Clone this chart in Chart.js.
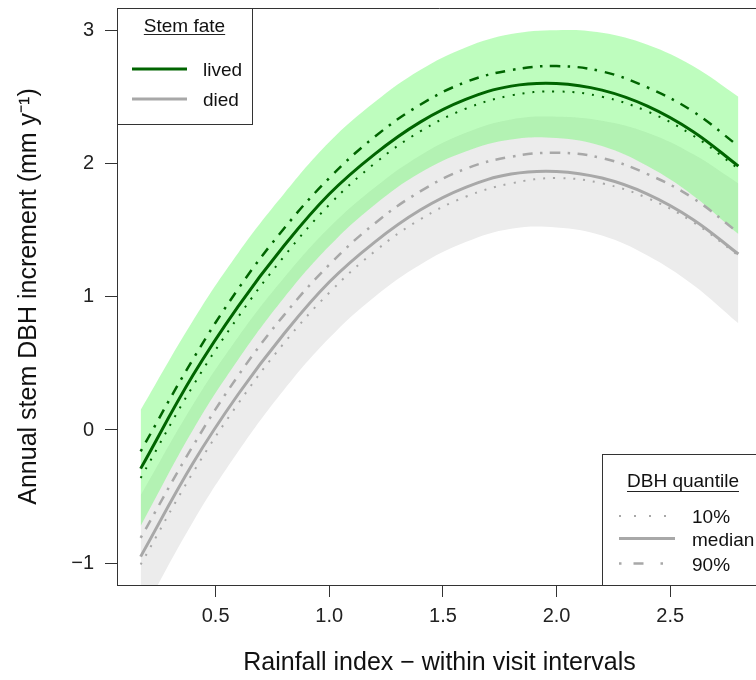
<!DOCTYPE html>
<html><head><meta charset="utf-8">
<script src="https://cdn.jsdelivr.net/npm/chart.js@4/dist/chart.umd.min.js"></script>
<style>
html,body{margin:0;padding:0;overflow:hidden;background:#fff;width:756px;height:680px}
canvas{position:absolute;left:0;top:0}
</style>
</head><body>
<canvas id="c" width="790" height="680"></canvas>
<script>
// ---- data ----
const rainfall    = [0.17, 0.4, 0.6, 0.8, 1.0, 1.2, 1.4, 1.6, 1.8, 2.0, 2.2, 2.4, 2.6, 2.8];
const livedMedian = [-0.29, 0.41, 0.93, 1.38, 1.77, 2.07, 2.31, 2.48, 2.58, 2.60, 2.55, 2.43, 2.24, 1.98];
const lived90     = [-0.16, 0.53, 1.06, 1.51, 1.89, 2.20, 2.44, 2.61, 2.70, 2.73, 2.69, 2.57, 2.39, 2.13];
const lived10     = [-0.36, 0.33, 0.85, 1.30, 1.69, 2.00, 2.24, 2.41, 2.51, 2.54, 2.50, 2.39, 2.21, 1.96];
const diedMedian  = [-0.95, -0.25, 0.27, 0.72, 1.11, 1.41, 1.65, 1.82, 1.92, 1.94, 1.89, 1.77, 1.58, 1.32];
const died90      = [-0.81, -0.12, 0.41, 0.86, 1.24, 1.55, 1.79, 1.96, 2.05, 2.08, 2.04, 1.92, 1.74, 1.48];
const died10      = [-1.01, -0.32, 0.20, 0.65, 1.03, 1.34, 1.58, 1.75, 1.85, 1.89, 1.85, 1.74, 1.56, 1.31];
const livedUpper  = [0.15, 0.82, 1.33, 1.77, 2.16, 2.46, 2.70, 2.87, 2.97, 3.00, 2.98, 2.89, 2.73, 2.50];
const livedLower  = [-0.72, 0.00, 0.53, 0.99, 1.38, 1.69, 1.93, 2.09, 2.18, 2.19, 2.13, 1.98, 1.76, 1.47];
const diedUpper   = [-0.49, 0.19, 0.70, 1.14, 1.52, 1.82, 2.06, 2.23, 2.33, 2.35, 2.32, 2.23, 2.07, 1.85];
const diedLower   = [-1.40, -0.69, -0.16, 0.30, 0.69, 1.00, 1.24, 1.41, 1.51, 1.52, 1.46, 1.31, 1.09, 0.80];
const xTicks = [0.5, 1.0, 1.5, 2.0, 2.5];
const yTicks = [-1, 0, 1, 2, 3];
const fateLabels = ['lived', 'died'];
const quantileLabels = ['10%', 'median', '90%'];

// ---- styling ----
const FONT = '"Liberation Sans", Arial, Helvetica, sans-serif';
const GREEN = '#006400';
const GREY = '#a8a8a8';
const DOT = [2, 8];
const DOTDASH = [2.5, 7.5, 10, 7.5];

const pts = arr => rainfall.map((x, i) => ({x: x, y: arr[i]}));
function line(label, arr, color, width, dash) {
  return {label, data: pts(arr), borderColor: color, borderWidth: width, borderDash: dash,
    borderCapStyle: 'butt', pointRadius: 0, fill: false, tension: 0.4, order: 0};
}
function band(label, arr, bg, fill, order) {
  return {label, data: pts(arr), borderWidth: 0, borderColor: 'rgba(0,0,0,0)', backgroundColor: bg,
    pointRadius: 0, fill: fill, tension: 0.4, order: order};
}

const frameAndLegends = {
  id: 'frameAndLegends',
  afterDraw(chart) {
    const ctx = chart.ctx, a = chart.chartArea;
    ctx.save();
    ctx.strokeStyle = '#333'; ctx.lineWidth = 1;
    ctx.beginPath();
    ctx.moveTo(a.left, a.top + 0.5); ctx.lineTo(a.right, a.top + 0.5);
    ctx.moveTo(a.right - 0.5, a.top); ctx.lineTo(a.right - 0.5, a.bottom);
    ctx.stroke();

    function seg(x1, x2, y, color, w, dash) {
      ctx.save(); ctx.strokeStyle = color; ctx.lineWidth = w; ctx.setLineDash(dash || []);
      ctx.lineCap = 'butt'; ctx.beginPath(); ctx.moveTo(x1, y); ctx.lineTo(x2, y); ctx.stroke(); ctx.restore();
    }
    function title(text, cx, base, under) {
      ctx.font = '19px ' + FONT; ctx.fillStyle = '#111'; ctx.textAlign = 'center'; ctx.textBaseline = 'alphabetic';
      ctx.fillText(text, cx, base);
      const w = ctx.measureText(text).width;
      ctx.strokeStyle = '#222'; ctx.lineWidth = 1; ctx.setLineDash([]);
      ctx.beginPath(); ctx.moveTo(cx - w / 2, under + 0.5); ctx.lineTo(cx + w / 2, under + 0.5); ctx.stroke();
    }
    function label(text, x, base) {
      ctx.font = '19px ' + FONT; ctx.fillStyle = '#111'; ctx.textAlign = 'left'; ctx.textBaseline = 'alphabetic';
      ctx.fillText(text, x, base);
    }
    // legend 1: Stem fate
    ctx.fillStyle = '#fff'; ctx.fillRect(a.left, a.top, 135, 116);
    ctx.strokeStyle = '#333'; ctx.lineWidth = 1;
    ctx.strokeRect(a.left + 0.5, a.top + 0.5, 135, 116);
    title('Stem fate', 184.5, 31.5, 34);
    seg(132, 187, 69, GREEN, 3, []);
    label(fateLabels[0], 203, 76);
    seg(132, 187, 99, GREY, 3, []);
    label(fateLabels[1], 203, 106);
    // legend 2: DBH quantile
    ctx.fillStyle = '#fff'; ctx.fillRect(602, 454, 200, a.bottom - 454);
    ctx.strokeStyle = '#333'; ctx.lineWidth = 1;
    ctx.strokeRect(602.5, 454.5, 200, a.bottom - 454);
    title('DBH quantile', 683, 486.5, 491);
    seg(619, 675, 516, GREY, 2, [2, 13]);
    label(quantileLabels[0], 692, 523);
    seg(619, 675, 538.5, GREY, 3, []);
    label(quantileLabels[1], 692, 546);
    seg(619, 675, 563.5, GREY, 2.5, [2.5, 12, 10, 17]);
    label(quantileLabels[2], 692, 571);
    ctx.restore();
  }
};

new Chart(document.getElementById('c'), {
  type: 'line',
  data: {
    datasets: [
      line('lived 90%', lived90, GREEN, 2.5, DOTDASH),
      line('lived median', livedMedian, GREEN, 3, []),
      line('lived 10%', lived10, GREEN, 2, DOT),
      line('died 90%', died90, GREY, 2.5, DOTDASH),
      line('died median', diedMedian, GREY, 3, []),
      line('died 10%', died10, GREY, 2, DOT),
      band('lived upper', livedUpper, 'rgba(100,250,100,0.42)', '+1', 1),
      band('lived lower', livedLower, 'rgba(0,0,0,0)', false, 1),
      band('died upper', diedUpper, '#ececec', '+1', 2),
      band('died lower', diedLower, 'rgba(0,0,0,0)', false, 2)
    ]
  },
  options: {
    responsive: false,
    animation: false,
    layout: {padding: {top: 8, left: 0, right: 28, bottom: 0}},
    plugins: {legend: {display: false}, tooltip: {enabled: false}},
    scales: {
      x: {
        type: 'linear', min: 0.066, max: 2.904,
        afterFit: s => { s.height = 95; s.paddingLeft = 0; s.paddingRight = 0; },
        afterBuildTicks: s => { s.ticks = xTicks.map(v => ({value: v})); },
        ticks: {callback: v => Number(v).toFixed(1), color: '#222', font: {family: FONT, size: 20}, padding: 7, maxRotation: 0},
        grid: {drawOnChartArea: false, drawTicks: true, tickLength: 12, color: '#333'},
        border: {display: true, color: '#333', width: 1},
        title: {display: true, text: 'Rainfall index \u2212 within visit intervals', color: '#111',
          font: {family: FONT, size: 25}, padding: {top: 0, bottom: 2}}
      },
      y: {
        type: 'linear', min: -1.163, max: 3.166,
        afterFit: s => { s.width = 117; s.paddingTop = 0; s.paddingBottom = 0; },
        afterBuildTicks: s => { s.ticks = yTicks.map(v => ({value: v})); },
        ticks: {callback: v => (v < 0 ? '\u2212' + Math.abs(v) : String(v)), color: '#222', font: {family: FONT, size: 20}, padding: 11},
        grid: {drawOnChartArea: false, drawTicks: true, tickLength: 12, color: '#333'},
        border: {display: true, color: '#333', width: 1},
        title: {display: true, text: 'Annual stem DBH increment (mm y\u207B\u00B9)', color: '#111',
          font: {family: FONT, size: 25}, padding: {top: 14, bottom: 0}}
      }
    }
  },
  plugins: [frameAndLegends]
});
</script>
</body></html>
